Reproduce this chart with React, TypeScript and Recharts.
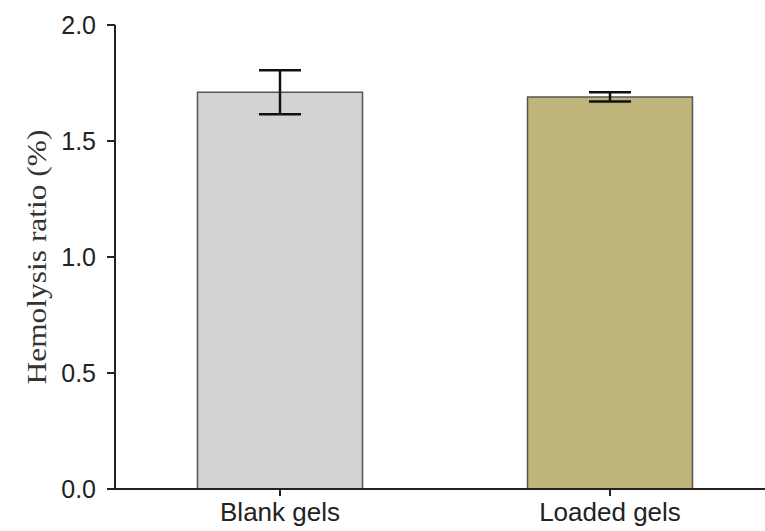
import React from 'react'
import { BarChart, Bar, XAxis, YAxis, Cell, ErrorBar } from 'recharts'

const categories = ['Blank gels', 'Loaded gels']
const means = [1.71, 1.69]
const errors = [0.095, 0.02]
const fills = ['#d3d3d3', '#bfb57b']
const yTicks = [0, 0.5, 1, 1.5, 2]

const data = categories.map((name, i) => ({ name, value: means[i], err: errors[i] }))

const YLabel = (props: any) => {
  const { viewBox } = props
  const cx = 37
  const cy = viewBox.y + viewBox.height / 2
  return (
    <text
      x={cx}
      y={cy}
      transform={`rotate(-90, ${cx}, ${cy})`}
      textAnchor="middle"
      dominantBaseline="central"
      fontFamily="'Liberation Serif', 'Times New Roman', serif"
      fontSize={27}
      textLength={255}
      lengthAdjust="spacingAndGlyphs"
      fill="#333"
    >
      Hemolysis ratio (%)
    </text>
  )
}

export default function App() {
  return (
    <div
      style={{
        position: 'absolute',
        left: 0,
        top: 0,
        width: 765,
        height: 531,
        overflow: 'hidden',
        background: '#fff',
      }}
    >
      <BarChart
        width={790}
        height={531}
        data={data}
        margin={{ top: 25, right: 15, bottom: 0, left: 0 }}
        barCategoryGap="25%"
      >
        <XAxis
          dataKey="name"
          height={42}
          axisLine={{ stroke: '#222', strokeWidth: 2 }}
          tickLine={{ stroke: '#222', strokeWidth: 2 }}
          tickSize={7}
          tick={{ fill: '#222', fontSize: 26, fontFamily: "'Liberation Sans', Arial, sans-serif" }}
          tickMargin={7}
        />
        <YAxis
          width={115}
          domain={[0, 2]}
          ticks={yTicks}
          interval={0}
          tickFormatter={(v: number) => v.toFixed(1)}
          axisLine={{ stroke: '#222', strokeWidth: 2 }}
          tickLine={{ stroke: '#222', strokeWidth: 2 }}
          tickSize={8}
          tickMargin={11}
          tick={{ fill: '#222', fontSize: 25, fontFamily: "'Liberation Sans', Arial, sans-serif" }}
          label={<YLabel />}
        />
        <Bar dataKey="value" stroke="#555" strokeWidth={1.5} isAnimationActive={false}>
          {data.map((d, i) => (
            <Cell key={d.name} fill={fills[i]} />
          ))}
          <ErrorBar dataKey="err" width={21} stroke="#111" strokeWidth={2.5} direction="y" />
        </Bar>
      </BarChart>
    </div>
  )
}
